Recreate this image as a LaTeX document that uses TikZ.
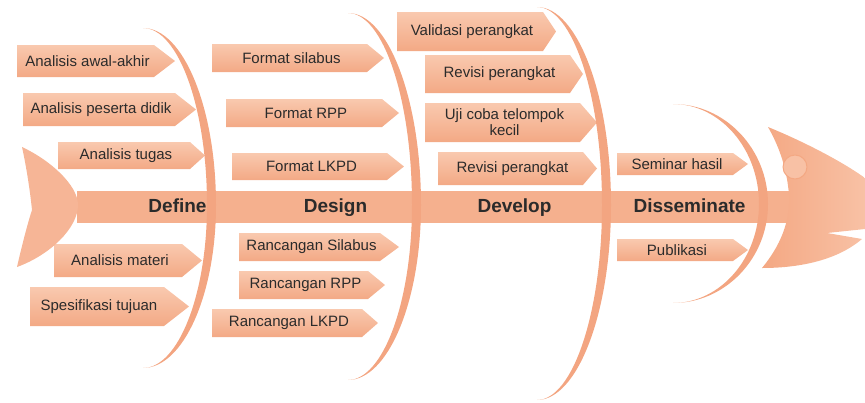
\documentclass[tikz,border=0pt]{standalone}
\usepackage{fontspec}
\setmainfont{Liberation Sans}
\definecolor{boxlight}{HTML}{F9C9AF}
\definecolor{boxdark}{HTML}{F3A985}
\definecolor{ribc}{HTML}{F3A581}
\definecolor{spinec}{HTML}{F5B08E}
\definecolor{spinelight}{HTML}{F9CAB0}
\definecolor{headc}{HTML}{F4A883}
\definecolor{headlight}{HTML}{F8C1A5}
\definecolor{txt}{HTML}{2B2B2B}
\begin{document}
\begin{tikzpicture}[x=1pt, y=-1pt, line join=round, line cap=round,
	box/.style={top color=boxlight, bottom color=boxdark, draw=none},
	boxtext/.style={font=\fontsize{15}{16}\selectfont, text=txt, align=center, inner sep=0pt},
	phase/.style={font=\bfseries\fontsize{19}{22}\selectfont, text=txt, anchor=base, inner sep=0pt},
	rib/.style={fill=ribc}]
	\useasboundingbox (0,0) rectangle (865,402);
	% spine
	\shade[top color=spinec, middle color=spinelight, bottom color=spinec] (77,191) rectangle (792,222);
	% boxes
	\foreach \xl/\yt/\yb/\xs/\xp/\txt/\nm in {
		17/45/77/154/175/Analisis awal-akhir/awal,
		23/93/126/175/196/Analisis peserta didik/peserta,
		58/142/169/190/205/Analisis tugas/tugas,
		54/244/277/182/202/Analisis materi/materi,
		30/287/326/164/189/Spesifikasi tujuan/tujuan,
		212/44/72/367/384/Format silabus/fsilabus,
		226/99/127/382/399/Format RPP/frpp,
		232/153/180/387/404/Format LKPD/flkpd,
		239/233/261/380/399/Rancangan Silabus/rsilabus,
		239/271/299/368/385/Rancangan RPP/rrpp,
		212/309/337/362/378/Rancangan LKPD/rlkpd,
		397/12/51/543/556/Validasi perangkat/validasi,
		425/55/93/570/583/Revisi perangkat/revisia,
		425/103/142/580/597/{Uji coba telompok\\kecil}/ujicoba,
		438/152/185/583/597/Revisi perangkat/revisib,
		617/153/175/733/748/Seminar hasil/seminar,
		617/239/261/733/748/Publikasi/publikasi}
	{
		\shade[box] (\xl,\yt) -- (\xs,\yt) -- (\xp,{(\yt+\yb)/2}) -- (\xs,\yb) -- (\xl,\yb) -- cycle;
		\node[boxtext] (\nm) at ({(\xl+\xs)/2+2},{(\yt+\yb)/2}) {\txt};
	}
	% ribs
	\foreach \xt/\yt/\xm/\ym/\yb in {143/28/216/205/368, 348/13/421/205/380, 537/7/611/205/400, 673/104/768/204/303}
	{
		\pgfmathsetmacro\ca{\xt+0.55*(\xm-\xt)}
		\pgfmathsetmacro\xin{\xm-9}
		\pgfmathsetmacro\cb{\xt+0.55*(\xin-\xt)}
		\pgfmathsetmacro\up{\ym-0.55*(\ym-\yt)}
		\pgfmathsetmacro\dn{\ym+0.55*(\yb-\ym)}
		\fill[rib] (\xt,\yt) .. controls (\ca,\yt) and (\xm,\up) .. (\xm,\ym)
			.. controls (\xm,\dn) and (\ca,\yb) .. (\xt,\yb)
			.. controls (\cb,\yb) and (\xin,\dn) .. (\xin,\ym)
			.. controls (\xin,\up) and (\cb,\yt) .. (\xt,\yt) -- cycle;
	}
	\node[phase] (define) at (177.5,212) {Define};
	\node[phase] (design) at (335.5,212) {Design};
	\node[phase] (develop) at (514.5,212) {Develop};
	\node[phase] (disseminate) at (689.5,212) {Disseminate};
	% tail
	\fill[headc!85!white] (22,147) .. controls (50,160) and (78,185) .. (78,205)
		.. controls (78,228) and (50,255) .. (17,267)
		.. controls (22,245) and (28,222) .. (32,210)
		.. controls (30,190) and (26,165) .. (22,147) -- cycle;
	% head
	\shade[left color=headc, right color=headlight] (768,127) .. controls (800,140) and (840,160) .. (865,178)
		-- (865,229) -- (827,233) -- (862,239)
		.. controls (835,262) and (795,268) .. (762,268)
		.. controls (785,240) and (790,215) .. (789,195)
		.. controls (787,170) and (780,148) .. (768,127) -- cycle;
	\node[circle, minimum size=24pt, inner sep=0pt, fill=headlight, draw=headc, line width=1pt] (eye) at (795,167) {};
\end{tikzpicture}
\end{document}
